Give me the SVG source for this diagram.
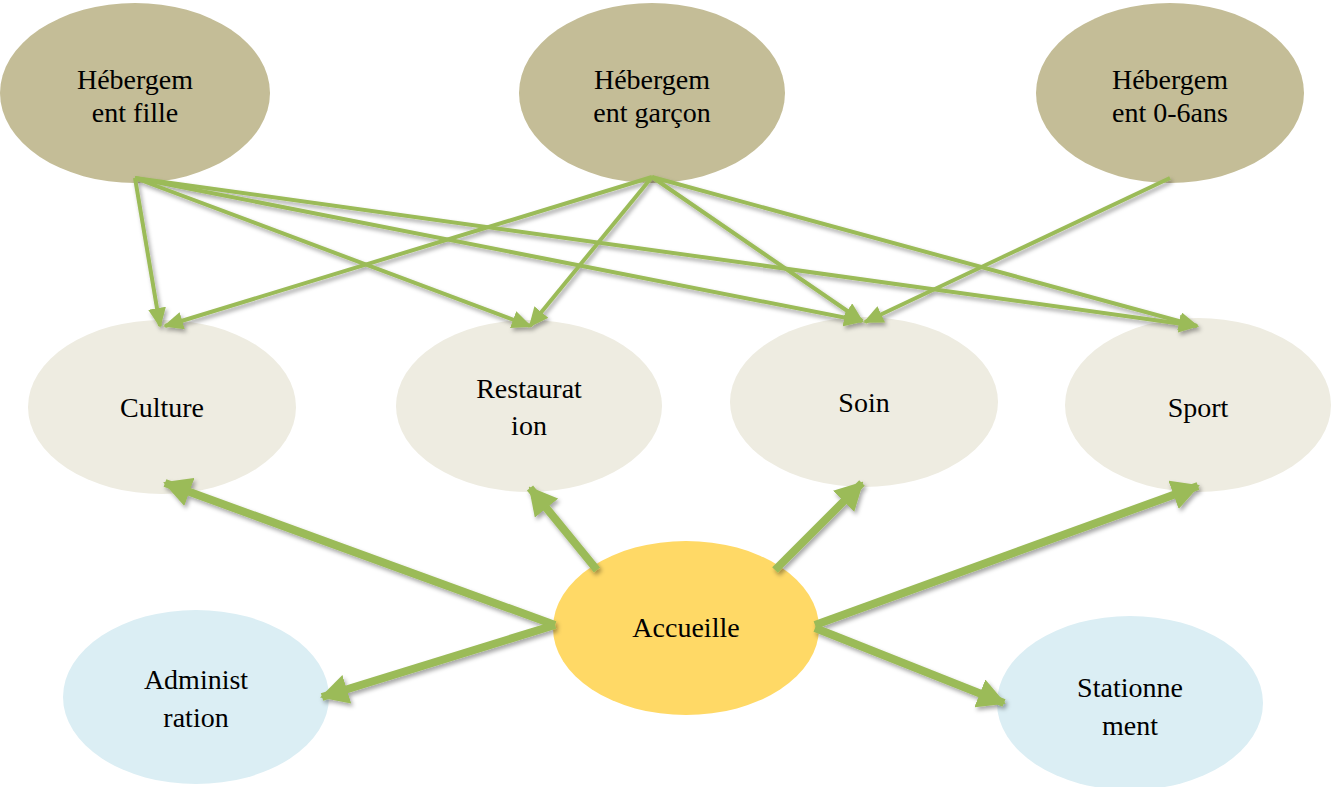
<svg xmlns="http://www.w3.org/2000/svg" width="1331" height="787" viewBox="0 0 1331 787">
<style>
.top{fill:#C4BD97}
.mid{fill:#EEECE1}
.acc{fill:#FFD966}
.low{fill:#DBEEF4}
text{font-family:"Liberation Serif","Times New Roman",serif;font-size:28px;fill:#000;text-anchor:middle}
.thin{stroke:#9BBB59;stroke-width:4;fill:none;marker-end:url(#ah1)}
.thick{stroke:#9BBB59;stroke-width:8;fill:none;marker-end:url(#ah2)}
</style>
<defs>
<marker id="ah1" markerUnits="userSpaceOnUse" markerWidth="20" markerHeight="18" refX="18" refY="9" orient="auto">
<path d="M0,0 L20,9 L0,18 Z" fill="#9BBB59"/>
</marker>
<marker id="ah2" markerUnits="userSpaceOnUse" markerWidth="28" markerHeight="30" refX="26" refY="15" orient="auto">
<path d="M0,0 L28,15 L0,30 Z" fill="#9BBB59"/>
</marker>
<filter id="sh" x="-10%" y="-10%" width="120%" height="120%">
<feDropShadow dx="2" dy="3" stdDeviation="2" flood-color="#000" flood-opacity="0.35"/>
</filter>
</defs>
<g id="n-fille"><ellipse class="top" cx="135" cy="93" rx="135" ry="90"/><text x="135" y="89">Hébergem</text><text x="135" y="122">ent fille</text></g>
<g id="n-garcon"><ellipse class="top" cx="652" cy="93" rx="133" ry="90"/><text x="652" y="89">Hébergem</text><text x="652" y="122">ent garçon</text></g>
<g id="n-06"><ellipse class="top" cx="1170" cy="93" rx="134" ry="90"/><text x="1170" y="89">Hébergem</text><text x="1170" y="122">ent 0-6ans</text></g>
<g id="n-culture"><ellipse class="mid" cx="162" cy="407" rx="134" ry="87"/><text x="162" y="417">Culture</text></g>
<g id="n-restauration"><ellipse class="mid" cx="529" cy="406" rx="133" ry="86"/><text x="529" y="398">Restaurat</text><text x="529" y="435">ion</text></g>
<g id="n-soin"><ellipse class="mid" cx="864" cy="402" rx="134" ry="85"/><text x="864" y="412">Soin</text></g>
<g id="n-sport"><ellipse class="mid" cx="1198" cy="405" rx="133" ry="87"/><text x="1198" y="417">Sport</text></g>
<g id="n-accueille"><ellipse class="acc" cx="686" cy="628" rx="133" ry="87"/><text x="686" y="637">Accueille</text></g>
<g id="n-administration"><ellipse class="low" cx="196" cy="697" rx="133" ry="87"/><text x="196" y="689">Administ</text><text x="196" y="727">ration</text></g>
<g id="n-stationnement"><ellipse class="low" cx="1130" cy="703" rx="133" ry="87"/><text x="1130" y="697">Stationne</text><text x="1130" y="735">ment</text></g>
<g id="connectors" filter="url(#sh)">
<line class="thin" x1="135" y1="178" x2="160" y2="326"/>
<line class="thin" x1="135" y1="178" x2="530" y2="326"/>
<line class="thin" x1="135" y1="178" x2="862" y2="321"/>
<line class="thin" x1="135" y1="178" x2="1197" y2="326"/>
<line class="thin" x1="652" y1="177" x2="165" y2="326"/>
<line class="thin" x1="652" y1="177" x2="530" y2="326"/>
<line class="thin" x1="652" y1="177" x2="862" y2="321"/>
<line class="thin" x1="652" y1="177" x2="1197" y2="326"/>
<line class="thin" x1="1170" y1="178" x2="865" y2="322"/>
<line class="thick" x1="555" y1="625" x2="165" y2="483"/>
<line class="thick" x1="597" y1="570" x2="530" y2="488"/>
<line class="thick" x1="775" y1="570" x2="862" y2="483"/>
<line class="thick" x1="815" y1="625" x2="1198" y2="486"/>
<line class="thick" x1="555" y1="625" x2="322" y2="697"/>
<line class="thick" x1="815" y1="628" x2="1004" y2="703"/>
</g>
</svg>
